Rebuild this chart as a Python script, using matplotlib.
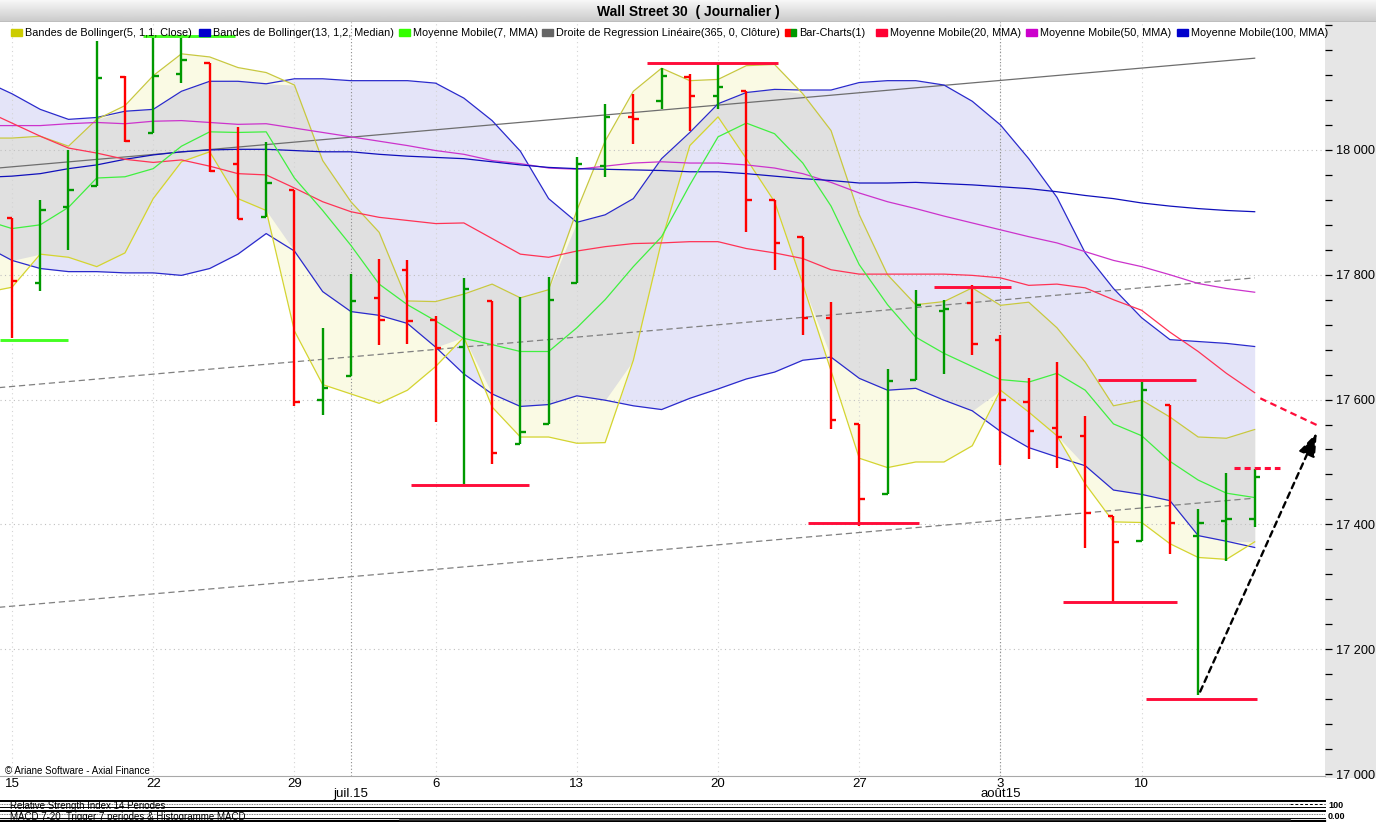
import numpy as np
import matplotlib
matplotlib.use('Agg')
import matplotlib.pyplot as plt
from matplotlib.patches import Rectangle
from matplotlib.lines import Line2D
from matplotlib.ticker import MultipleLocator, FuncFormatter, FixedLocator
import matplotlib.transforms as mtransforms

plt.rcParams['font.family'] = ['Liberation Sans', 'DejaVu Sans']

# ---- data : daily bars, 15 June -> 14 Aug 2015 (index 0..44) ----
opens = [17891, 17787, 17909, 17943, 18117, 18027, 18121, 18139, 17977, 17892,
         17936, 17599, 17638, 17763, 17808, 17727, 17684, 17758, 17529, 17561,
         17787, 17974, 18052, 18078, 18117, 18086, 18095, 17919, 17860, 17730,
         17561, 17449, 17631, 17742, 17755, 17696, 17596, 17555, 17542, 17413,
         17374, 17592, 17382, 17406, 17409]
highs = [17891, 17920, 18000, 18175, 18118, 18184, 18184, 18139, 18036, 18012,
         17936, 17715, 17801, 17826, 17824, 17734, 17794, 17758, 17765, 17797,
         17988, 18074, 18090, 18132, 18122, 18139, 18095, 17919, 17860, 17756,
         17561, 17649, 17776, 17760, 17783, 17703, 17635, 17660, 17573, 17413,
         17628, 17592, 17424, 17482, 17489]
lows = [17698, 17774, 17840, 17943, 18012, 18027, 18108, 17965, 17889, 17892,
        17590, 17576, 17638, 17688, 17689, 17564, 17465, 17496, 17529, 17561,
        17787, 17956, 18010, 18066, 18031, 18065, 17869, 17808, 17704, 17553,
        17398, 17449, 17631, 17641, 17672, 17495, 17505, 17491, 17362, 17276,
        17374, 17352, 17127, 17342, 17395]
closes = [17790, 17904, 17935, 18115, 18015, 18119, 18144, 17967, 17889, 17947,
          17596, 17618, 17758, 17728, 17726, 17683, 17777, 17515, 17548, 17759,
          17977, 18052, 18049, 18119, 18086, 18101, 17919, 17851, 17730, 17567,
          17440, 17630, 17752, 17745, 17689, 17599, 17549, 17540, 17418, 17372,
          17615, 17403, 17403, 17408, 17476]

# indicators, index -1..44
bb13_hi = [18111, 18090, 18065, 18049, 18052, 18062, 18065, 18094, 18110, 18110,
           18106, 18114, 18114, 18111, 18111, 18111, 18107, 18083, 18047, 17998,
           17922, 17884, 17896, 17922, 17986, 18028, 18074, 18092, 18097, 18096,
           18096, 18108, 18111, 18111, 18104, 18078, 18040, 17986, 17924, 17835,
           17778, 17731, 17696, 17693, 17690, 17685]
bb13_lo = [17847, 17823, 17810, 17805, 17805, 17803, 17803, 17799, 17810, 17833,
           17866, 17838, 17773, 17741, 17735, 17722, 17684, 17641, 17609, 17589,
           17592, 17606, 17599, 17590, 17584, 17602, 17617, 17633, 17644, 17663,
           17668, 17634, 17615, 17618, 17599, 17582, 17549, 17523, 17508, 17494,
           17455, 17448, 17438, 17382, 17373, 17363]
bb5_hi = [18019, 18019, 18022, 18006, 18049, 18071, 18119, 18154, 18149, 18132,
          18124, 18104, 17983, 17917, 17868, 17758, 17757, 17769, 17785, 17763,
          17776, 17903, 18014, 18094, 18131, 18111, 18113, 18135, 18137, 18090,
          18031, 17896, 17800, 17752, 17757, 17779, 17751, 17756, 17715, 17660,
          17590, 17599, 17572, 17540, 17538, 17552]
bb5_lo = [17771, 17780, 17833, 17828, 17813, 17835, 17922, 17981, 17997, 17922,
          17903, 17710, 17624, 17609, 17594, 17615, 17653, 17700, 17588, 17540,
          17540, 17530, 17531, 17663, 17854, 18007, 18053, 17986, 17917, 17785,
          17646, 17506, 17491, 17500, 17500, 17526, 17615, 17580, 17542, 17465,
          17404, 17403, 17369, 17347, 17344, 17372]
ma7 = [17888, 17874, 17880, 17908, 17955, 17957, 17970, 18006, 18029, 18028,
       18029, 17955, 17903, 17847, 17785, 17752, 17726, 17698, 17688, 17677,
       17677, 17715, 17760, 17813, 17861, 17944, 18021, 18043, 18026, 17979,
       17910, 17816, 17752, 17700, 17674, 17653, 17632, 17628, 17642, 17615,
       17561, 17542, 17501, 17471, 17450, 17443]
ma20 = [18064, 18043, 18022, 18003, 17995, 17985, 17980, 17984, 17974, 17962,
        17960, 17939, 17917, 17901, 17892, 17887, 17882, 17883, 17858, 17833,
        17828, 17838, 17845, 17850, 17851, 17853, 17853, 17842, 17835, 17826,
        17808, 17801, 17801, 17801, 17801, 17799, 17795, 17783, 17785, 17779,
        17760, 17743, 17708, 17677, 17642, 17611]
ma50 = [18039, 18039, 18039, 18042, 18044, 18042, 18046, 18047, 18044, 18041,
        18042, 18035, 18028, 18021, 18014, 18007, 17999, 17993, 17983, 17978,
        17971, 17969, 17974, 17979, 17981, 17979, 17979, 17976, 17971, 17962,
        17948, 17931, 17917, 17906, 17894, 17883, 17872, 17861, 17851, 17837,
        17823, 17813, 17800, 17786, 17778, 17772]
ma100 = [17956, 17958, 17962, 17970, 17976, 17985, 17992, 17997, 18000, 18001,
         18001, 17999, 17997, 17997, 17993, 17990, 17988, 17986, 17981, 17976,
         17972, 17970, 17969, 17968, 17967, 17965, 17965, 17962, 17958, 17954,
         17951, 17947, 17947, 17948, 17946, 17944, 17941, 17938, 17933, 17927,
         17922, 17915, 17910, 17906, 17903, 17901]

# linear regression (365) and its channel : values at index -1 and 44
reg_mid = [17969, 18147]
reg_up = [17617, 17795]
reg_lo = [17265, 17442]

day_labels = ['15', '22', '29', '6', '13', '20', '27', '3', '10']
day_idx = [0, 5, 10, 15, 20, 25, 30, 35, 40]
month_labels = ['juil.15', 'août15']
month_idx = [12, 35]

# hand drawn supports / resistances (x0, x1, level)
red_levels = [(14.13, 18.31, 17463), (22.49, 27.12, 18140), (28.19, 32.12, 17403),
              (32.65, 35.37, 17781), (38.46, 41.93, 17631), (37.22, 41.25, 17276),
              (40.16, 44.09, 17120)]
green_levels = [(-0.425, 1.98, 17695), (4.64, 7.9, 18183)]
red_dash_level = (43.27, 44.9, 17491)
ma20_proj = ((44.2, 17602), (46.3, 17557))
arrow_seg = ((42.07, 17132), (46.2, 17547))

legend_items = [('Bandes de Bollinger(5, 1,1, Close)', '#cccc00'),
                ('Bandes de Bollinger(13, 1,2, Median)', '#0000cc'),
                ('Moyenne Mobile(7, MMA)', '#33ff00'),
                ('Droite de Regression Linéaire(365, 0, Clôture)', '#666666'),
                ('Bar-Charts(1)', 'bar'),
                ('Moyenne Mobile(20, MMA)', '#ff0033'),
                ('Moyenne Mobile(50, MMA)', '#cc00cc'),
                ('Moyenne Mobile(100, MMA)', '#0000cc')]
legend_x = [11, 199, 399, 542, 785, 876, 1026, 1177]

W, H = 1376, 822
def fx(px):
    return px / W
def fy(py):
    return 1 - py / H

fig = plt.figure(figsize=(W / 100, H / 100), dpi=100)
fig.patch.set_facecolor('white')

# right gray scale strip
fig.patches.append(Rectangle((fx(1325), fy(778)), fx(51), 756 / H, transform=fig.transFigure,
                             facecolor='#e6e6e6', edgecolor='none', zorder=-5))

# ---- main chart ----
ax = fig.add_axes([0, fy(776), fx(1325), 754 / H])
ax.set_facecolor('white')
ax.set_xlim(-0.425, 46.49)
ax.set_ylim(16996.8, 18205)

xi = np.arange(-1, 45)
b5h, b5l = np.array(bb5_hi), np.array(bb5_lo)
b13h, b13l = np.array(bb13_hi), np.array(bb13_lo)
ax.fill_between(xi, b13l, b13h, color='#e4e4f8', lw=0, zorder=1)
ax.fill_between(xi, b5l, b5h, color='#fafae4', lw=0, zorder=1)
ov_lo = np.maximum(b5l, b13l)
ov_hi = np.minimum(b5h, b13h)
ax.fill_between(xi, ov_lo, ov_hi, where=ov_hi > ov_lo, interpolate=True,
                color='#e0e0e0', lw=0, zorder=1.1)

# grid
for v in range(17200, 18001, 200):
    ax.axhline(v, color='#c0c0c0', lw=0.8, ls=(0, (1, 3)), zorder=1.5)
for d in day_idx:
    ax.axvline(d, color='#d4d4d4', lw=0.8, ls=(0, (1, 3)), zorder=1.5)
for d in month_idx:
    ax.axvline(d, color='#8c8c8c', lw=0.8, ls=(0, (1, 2)), zorder=1.5)

# regression channel
ax.plot([-1, 44], reg_mid, color='#6e6e6e', lw=0.9, zorder=2)
ax.plot([-1, 44], reg_up, color='#808080', lw=0.9, ls=(0, (5, 3)), zorder=2)
ax.plot([-1, 44], reg_lo, color='#808080', lw=0.9, ls=(0, (5, 3)), zorder=2)

# indicator lines
ax.plot(xi, bb13_hi, color='#2a2acc', lw=0.9, zorder=2)
ax.plot(xi, bb13_lo, color='#2a2acc', lw=0.9, zorder=2)
ax.plot(xi, bb5_hi, color='#c8c840', lw=0.9, zorder=2)
ax.plot(xi, bb5_lo, color='#d4d430', lw=0.9, zorder=2)
ax.plot(xi, ma50, color='#cc33cc', lw=0.9, zorder=2.1)
ax.plot(xi, ma100, color='#1010bb', lw=0.9, zorder=2.1)
ax.plot(xi, ma20, color='#ff3355', lw=0.9, zorder=2.1)
ax.plot(xi, ma7, color='#40f040', lw=0.9, zorder=2.1)

# OHLC bars
tk = 0.19
for i in range(len(opens)):
    col = '#009900' if closes[i] >= opens[i] else '#ff0000'
    ax.vlines(i, lows[i], highs[i], color=col, lw=1.7, zorder=3)
    ax.hlines(opens[i], i - tk, i, color=col, lw=1.7, zorder=3)
    ax.hlines(closes[i], i, i + tk, color=col, lw=1.7, zorder=3)

# drawn levels
for x0, x1, lv in red_levels:
    ax.plot([x0, x1], [lv, lv], color='#ff0d3a', lw=2.1, solid_capstyle='butt', zorder=4)
for x0, x1, lv in green_levels:
    ax.plot([x0, x1], [lv, lv], color='#44ff22', lw=2.1, solid_capstyle='butt', zorder=4)
ax.plot(red_dash_level[:2], [red_dash_level[2]] * 2, color='#ff0d3a', lw=2.2,
        ls=(0, (2, 1.3)), zorder=4)
ax.plot([ma20_proj[0][0], ma20_proj[1][0]], [ma20_proj[0][1], ma20_proj[1][1]],
        color='#ff0d3a', lw=1.6, ls=(0, (3, 2)), zorder=4)
ax.annotate('', xy=arrow_seg[1], xytext=arrow_seg[0],
            arrowprops=dict(arrowstyle='-|>,head_length=0.55,head_width=0.2',
                            color='black', lw=1.7, ls=(0, (2.5, 2)),
                            mutation_scale=26, shrinkA=0, shrinkB=0), zorder=5)

# axes styling
for s in ['top', 'left', 'right']:
    ax.spines[s].set_visible(False)
ax.spines['bottom'].set_color('#a8a8a8')
ax.spines['bottom'].set_linewidth(0.8)
ax.yaxis.tick_right()
ax.yaxis.set_major_locator(MultipleLocator(200))
ax.yaxis.set_minor_locator(MultipleLocator(40))
ax.yaxis.set_major_formatter(FuncFormatter(
    lambda v, p: f"{int(round(v)):,}".replace(',', ' ') if v <= 18000.5 else ''))
ax.tick_params(axis='y', which='both', direction='out', length=5, width=0.9,
               color='black', labelsize=9.2, pad=3)
ax.xaxis.set_major_locator(FixedLocator(day_idx))
ax.set_xticklabels(day_labels)
ax.tick_params(axis='x', length=0, labelsize=9.5, pad=1.5)
trans = mtransforms.blended_transform_factory(ax.transData, ax.transAxes)
for lab, d in zip(month_labels, month_idx):
    ax.text(d, -0.0235, lab, transform=trans, ha='center', va='center', fontsize=9.5)
ax.text(5 / 1325, (776 - 771) / 754, '© Ariane Software - Axial Finance',
        transform=ax.transAxes, fontsize=7, va='center', ha='left', zorder=6)

# ---- title bar ----
axt = fig.add_axes([0, fy(22), 1, 22 / H])
grad = np.linspace(0.97, 0.79, 50).reshape(-1, 1)
axt.imshow(grad, aspect='auto', cmap='gray', vmin=0, vmax=1, extent=[0, 1, 0, 1])
axt.axhline(0.02, color='#909090', lw=1)
axt.set_xlim(0, 1)
axt.set_ylim(0, 1)
axt.axis('off')
axt.text(0.5, 0.45, 'Wall Street 30  ( Journalier )', ha='center', va='center',
         fontsize=10, fontweight='bold')

# ---- legend row ----
ly = fy(33)
for (lab, col), px in zip(legend_items, legend_x):
    if col == 'bar':
        fig.patches.append(Rectangle((fx(px), ly - 3.5 / H), fx(5.5), 7 / H,
                                     transform=fig.transFigure, color='#ff0000', zorder=10))
        fig.patches.append(Rectangle((fx(px + 5.5), ly - 3.5 / H), fx(5.5), 7 / H,
                                     transform=fig.transFigure, color='#009900', zorder=10))
    else:
        fig.patches.append(Rectangle((fx(px), ly - 3.5 / H), fx(11), 7 / H,
                                     transform=fig.transFigure, color=col, zorder=10))
    fig.text(fx(px + 14), ly, lab, fontsize=7.8, va='center', ha='left', zorder=10)

# ---- small RSI / MACD panels at the bottom ----
def hline_px(y, x0, x1, **kw):
    fig.add_artist(Line2D([fx(x0), fx(x1)], [fy(y), fy(y)], transform=fig.transFigure, **kw))

hline_px(800.5, 0, 1325, color='black', lw=1.4)
hline_px(803.5, 0, 1290, color='#555555', lw=0.6, ls=(0, (1, 1)))
hline_px(803.5, 1290, 1325, color='black', lw=0.7, ls=(0, (3, 2)))
hline_px(806.5, 0, 1325, color='black', lw=0.7)
hline_px(810.5, 0, 1325, color='black', lw=1.4)
hline_px(813.5, 0, 1325, color='#555555', lw=0.6, ls=(0, (1, 1)))
hline_px(817.5, 0, 1325, color='black', lw=0.7)
hline_px(820.5, 0, 1325, color='black', lw=1.6)
hline_px(819.5, 400, 1290, color='#333333', lw=1.2)
fig.text(fx(10), fy(806), 'Relative Strength Index 14 Périodes', fontsize=7, va='center')
fig.text(fx(10), fy(817), 'MACD 7-20  Trigger 7 periodes & Histogramme MACD', fontsize=7,
         va='center')
fig.text(fx(1328), fy(805), '100', fontsize=6.5, va='center', fontweight='bold')
fig.text(fx(1328), fy(816.5), '0.00', fontsize=6.5, va='center', fontweight='bold')

fig.savefig('out.png', dpi=100)
